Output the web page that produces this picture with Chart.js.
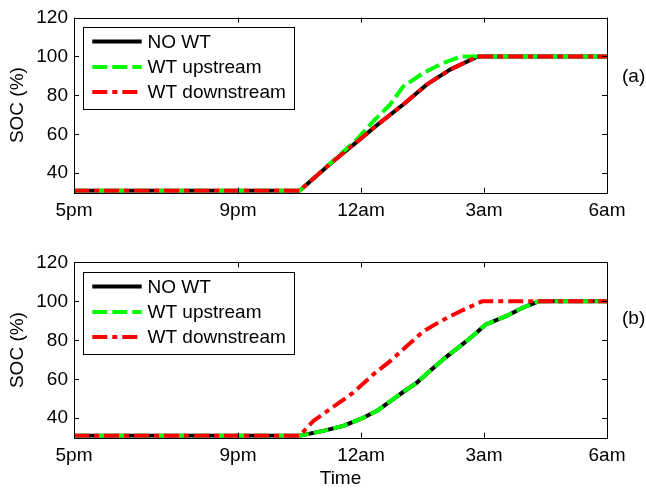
<!DOCTYPE html>
<html>
<head>
<meta charset="utf-8">
<script src="https://cdn.jsdelivr.net/npm/chart.js@4.4.1/dist/chart.umd.min.js"></script>
<style>
  html, body { margin: 0; padding: 0; background: #ffffff; }
  #wrap { position: relative; width: 646px; height: 491px; overflow: hidden; }
  canvas { position: absolute; left: 0; }
</style>
</head>
<body>
<div id="wrap">
  <canvas id="cA" width="646" height="245" style="top:0px;width:646px;height:245px"></canvas>
  <canvas id="cB" width="646" height="246" style="top:245px;width:646px;height:246px"></canvas>
</div>
<script>
// ---- tick labels / categories ----
const xTickHours = [0, 4, 7, 10, 13];           // hours after 5pm
const xTickLabels = ['5pm', '9pm', '12am', '3am', '6am'];
const yTicks = [40, 60, 80, 100, 120];
const seriesNames = ['NO WT', 'WT upstream', 'WT downstream'];

// ---- panel (a) ----
const aNoWT_x = [0, 5.5, 6.33, 6.98, 7.46, 8.03, 8.6, 9.17, 9.85, 13];
const aNoWT_y = [31, 31, 46.3, 57.5, 65.9, 75.3, 85.5, 93.2, 100, 100];
const aUp_x   = [0, 5.5, 6.33, 6.9, 7.3, 7.71, 8.03, 8.52, 9.0, 9.45, 13];
const aUp_y   = [31, 31, 46.5, 57.4, 66.7, 75.3, 84.6, 91.5, 96.6, 100, 100];
const aDown_x = [0, 5.5, 6.33, 6.98, 7.46, 8.03, 8.6, 9.17, 9.85, 13];
const aDown_y = [31, 31, 46.3, 57.5, 65.9, 75.3, 85.5, 93.2, 100, 100];

// ---- panel (b) ----
const bNoWT_x = [0, 5.5, 6.08, 6.57, 6.98, 7.38, 7.95, 8.36, 8.68, 9.05, 9.41, 9.74, 10.05, 10.55, 10.92, 11.33, 13];
const bNoWT_y = [31, 31, 33.5, 36.1, 39.5, 43.7, 52.3, 58.2, 64.2, 71, 76.9, 82.5, 88.2, 92.5, 96.5, 100, 100];
const bUp_x   = [0, 5.5, 6.08, 6.57, 6.98, 7.38, 7.95, 8.36, 8.68, 9.05, 9.41, 9.74, 10.05, 10.55, 10.92, 11.33, 13];
const bUp_y   = [31, 31, 33.5, 36.1, 39.5, 43.7, 52.3, 58.2, 64.2, 71, 76.9, 82.5, 88.2, 92.5, 96.5, 100, 100];
const bDown_x = [0, 5.5, 5.84, 6.24, 6.81, 7.3, 7.71, 8.11, 8.52, 8.93, 9.41, 9.95, 13];
const bDown_y = [31, 31, 38.6, 44.6, 53.1, 62.5, 69.3, 76.9, 84.6, 89.7, 94.8, 100, 100];

const FONT = "'Liberation Sans', Arial, Helvetica, sans-serif";
const FS = 19;

function pts(xs, ys) { return xs.map((x, i) => ({ x: x, y: ys[i] })); }

function makeDatasets(noX, noY, upX, upY, dnX, dnY) {
  const common = { pointRadius: 0, borderWidth: 4, fill: false, tension: 0, borderCapStyle: 'butt', borderJoinStyle: 'round' };
  return [
    Object.assign({ label: seriesNames[0], data: pts(noX, noY), borderColor: '#000000', borderDash: [], order: 3 }, common),
    Object.assign({ label: seriesNames[1], data: pts(upX, upY), borderColor: '#00ff00', borderDash: [15, 5], order: 2 }, common),
    Object.assign({ label: seriesNames[2], data: pts(dnX, dnY), borderColor: '#ff0000', borderDash: [15, 5, 5, 5], order: 1 }, common)
  ];
}

const framePlugin = {
  id: 'frame',
  afterDatasetsDraw(chart) {
    const ctx = chart.ctx, a = chart.chartArea;
    const xs = chart.scales.x, ys = chart.scales.y;
    ctx.save();
    ctx.strokeStyle = '#000000';
    ctx.lineWidth = 1;
    ctx.setLineDash([]);
    ctx.strokeRect(Math.round(a.left) + 0.5, Math.round(a.top) + 0.5, Math.round(a.right) - Math.round(a.left), Math.round(a.bottom) - Math.round(a.top));
    const tl = 5;
    ctx.beginPath();
    xTickHours.forEach(v => {
      const px = Math.round(xs.getPixelForValue(v)) + 0.5;
      ctx.moveTo(px, a.bottom); ctx.lineTo(px, a.bottom - tl);
      ctx.moveTo(px, a.top); ctx.lineTo(px, a.top + tl);
    });
    yTicks.forEach(v => {
      const py = Math.round(ys.getPixelForValue(v)) + 0.5;
      ctx.moveTo(a.left, py); ctx.lineTo(a.left + tl, py);
      ctx.moveTo(a.right, py); ctx.lineTo(a.right - tl, py);
    });
    ctx.stroke();
    ctx.restore();
  },
  afterDraw(chart, args, opts) {
    const ctx = chart.ctx;
    // legend box
    const bx = 83, by = 26.7, bw = 211.3, bh = 81.6;
    ctx.save();
    ctx.fillStyle = '#ffffff';
    ctx.fillRect(bx, by, bw, bh);
    ctx.strokeStyle = '#000000';
    ctx.lineWidth = 1;
    ctx.setLineDash([]);
    ctx.strokeRect(Math.round(bx) + 0.5, Math.round(by) + 0.5, Math.round(bw), Math.round(bh));
    const rows = [41.5, 67, 92];
    chart.data.datasets.forEach((ds, i) => {
      const y = rows[i];
      ctx.beginPath();
      ctx.strokeStyle = ds.borderColor;
      ctx.lineWidth = ds.borderWidth;
      ctx.lineCap = 'butt';
      ctx.setLineDash(ds.borderDash || []);
      ctx.moveTo(92.3, y); ctx.lineTo(141.7, y);
      ctx.stroke();
      ctx.setLineDash([]);
      ctx.fillStyle = '#000000';
      ctx.font = FS + 'px ' + FONT;
      ctx.textAlign = 'left';
      ctx.textBaseline = 'middle';
      ctx.fillText(ds.label, 147.5, y + 1);
    });
    // panel tag
    ctx.fillStyle = '#000000';
    ctx.font = FS + 'px ' + FONT;
    ctx.textAlign = 'left';
    ctx.textBaseline = 'middle';
    ctx.fillText(opts.tag, 622, opts.tagY);
    ctx.restore();
  }
};

function makeChart(canvasId, datasets, padTop, axisH, showXTitle, tag, tagY) {
  return new Chart(document.getElementById(canvasId), {
    type: 'line',
    data: { datasets: datasets },
    plugins: [framePlugin],
    options: {
      responsive: false,
      animation: false,
      events: [],
      layout: { padding: { top: padTop, right: 39, bottom: 0, left: 0 } },
      plugins: {
        legend: { display: false },
        tooltip: { enabled: false },
        frame: { tag: tag, tagY: tagY }
      },
      scales: {
        x: {
          type: 'linear',
          min: 0, max: 13,
          grid: { display: false, drawTicks: false },
          border: { display: false },
          afterBuildTicks: (s) => { s.ticks = xTickHours.map(v => ({ value: v })); },
          afterFit: (s) => { s.height = axisH; },
          ticks: {
            autoSkip: false, maxRotation: 0, padding: 7,
            color: '#000000',
            font: { family: FONT, size: FS },
            callback: (v) => { const i = xTickHours.indexOf(v); return i >= 0 ? xTickLabels[i] : ''; }
          },
          title: {
            display: showXTitle, text: 'Time', color: '#000000',
            font: { family: FONT, size: FS, lineHeight: 1.2 },
            padding: { top: 0, bottom: 1 }
          }
        },
        y: {
          type: 'linear',
          min: 30, max: 120,
          grid: { display: false, drawTicks: false },
          border: { display: false },
          afterBuildTicks: (s) => { s.ticks = yTicks.map(v => ({ value: v })); },
          afterFit: (s) => { s.width = 74; },
          ticks: {
            padding: 6, color: '#000000',
            font: { family: FONT, size: FS }
          },
          title: {
            display: true, text: 'SOC (%)', color: '#000000',
            font: { family: FONT, size: FS, lineHeight: 1.2 },
            padding: { top: 6, bottom: 0 }
          }
        }
      }
    }
  });
}

makeChart('cA', makeDatasets(aNoWT_x, aNoWT_y, aUp_x, aUp_y, aDown_x, aDown_y), 17.5, 52.3, false, '(a)', 77);
makeChart('cB', makeDatasets(bNoWT_x, bNoWT_y, bUp_x, bUp_y, bDown_x, bDown_y), 17.3, 53.3, true, '(b)', 73.5);
</script>
</body>
</html>
